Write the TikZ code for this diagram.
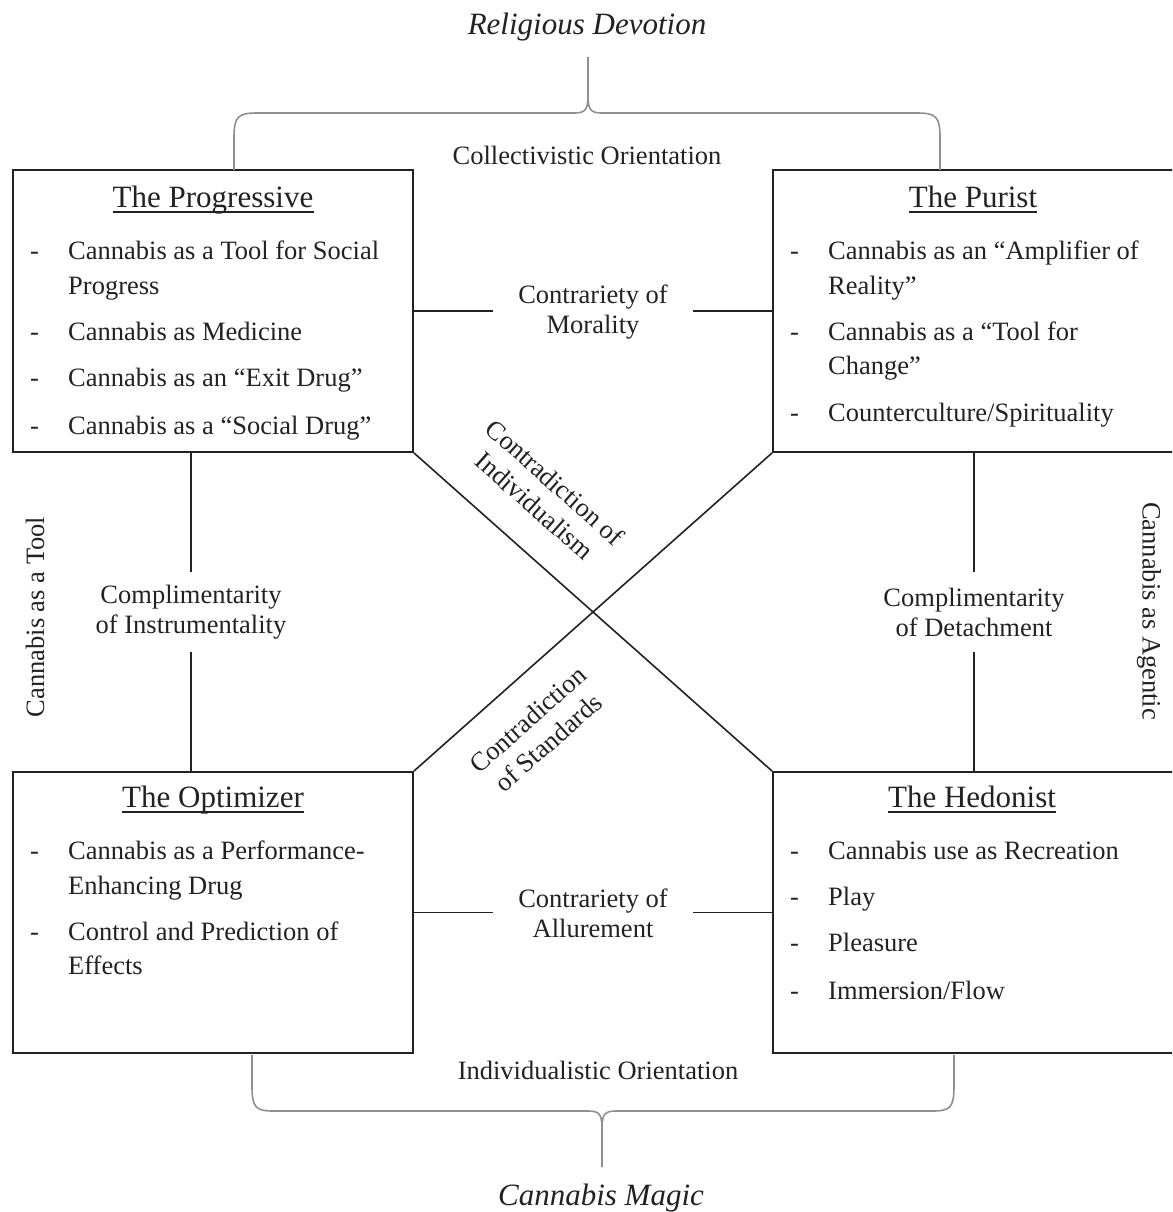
\documentclass[tikz,border=0pt]{standalone}
\usepackage{fontspec}
\setmainfont{Liberation Serif}
\newcommand\bodyf{\fontsize{26.5}{30}\selectfont}
\newcommand\diagf{\fontsize{26.5}{31}\selectfont}
\newcommand\titlef{\fontsize{31}{36}\selectfont}
\definecolor{linec}{HTML}{222222}
\definecolor{bracec}{HTML}{8F8F8F}
\begin{document}
\begin{tikzpicture}[x=1pt,y=-1pt,
  box/.style={draw=linec, line width=1.8pt, inner sep=0pt},
  conn/.style={draw=linec, line width=1.6pt},
  brc/.style={draw=bracec, line width=1.6pt},
  txt/.style={inner sep=0pt, anchor=base west, font=\bodyf, text=linec},
  dsh/.style={inner sep=0pt, anchor=base west, font=\bodyf, text=linec},
  ttl/.style={inner sep=0pt, anchor=base, font=\titlef, text=linec},
  lab/.style={inner sep=0pt, align=center, font=\bodyf, text=linec},
  dlab/.style={inner sep=0pt, align=center, font=\diagf, text=linec},
  big/.style={inner sep=0pt, anchor=base, font=\titlef\itshape, text=linec},
  uline/.style={draw=linec, line width=1.3pt}]
\useasboundingbox (0,0) rectangle (1172,1212);
\clip (0,0) rectangle (1172,1212);
\fill[white] (0,0) rectangle (1172,1212);

% boxes
\node[box, minimum width=400pt, minimum height=282pt] (prog) at (213,311) {};
\node[box, minimum width=402pt, minimum height=282pt] (pur) at (974,311) {};
\node[box, minimum width=400pt, minimum height=281pt] (opt) at (213,912.5) {};
\node[box, minimum width=402pt, minimum height=281pt] (hed) at (974,912.5) {};

% titles
\node[ttl] (tprog) at (213,207) {The Progressive};
\node[ttl] (tpur) at (973,207) {The Purist};
\node[ttl] (topt) at (213,807) {The Optimizer};
\node[ttl] (thed) at (972,807) {The Hedonist};
\foreach \t in {tprog,tpur,topt,thed}
  \draw[uline] ([yshift=-5pt]\t.base west) -- ([yshift=-5pt]\t.base east);

% Progressive items
\node[dsh] (pd1) at (30,259) {-};
\node[txt] (p1) at (68,259) {Cannabis as a Tool for Social};
\node[txt] (p1b) at (68,294) {Progress};
\node[dsh] (pd2) at (30,340) {-};
\node[txt] (p2) at (68,340) {Cannabis as Medicine};
\node[dsh] (pd3) at (30,386) {-};
\node[txt] (p3) at (68,386) {Cannabis as an “Exit Drug”};
\node[dsh] (pd4) at (30,434) {-};
\node[txt] (p4) at (68,434) {Cannabis as a “Social Drug”};

% Purist items
\node[dsh] (ud1) at (790,259) {-};
\node[txt] (u1) at (828,259) {Cannabis as an “Amplifier of};
\node[txt] (u1b) at (828,294) {Reality”};
\node[dsh] (ud2) at (790,340) {-};
\node[txt] (u2) at (828,340) {Cannabis as a “Tool for};
\node[txt] (u2b) at (828,374) {Change”};
\node[dsh] (ud3) at (790,421) {-};
\node[txt] (u3) at (828,421) {Counterculture/Spirituality};

% Optimizer items
\node[dsh] (od1) at (30,859) {-};
\node[txt] (o1) at (68,859) {Cannabis as a Performance-};
\node[txt] (o1b) at (68,894) {Enhancing Drug};
\node[dsh] (od2) at (30,940) {-};
\node[txt] (o2) at (68,940) {Control and Prediction of};
\node[txt] (o2b) at (68,974) {Effects};

% Hedonist items
\node[dsh] (hd1) at (790,859) {-};
\node[txt] (h1) at (828,859) {Cannabis use as Recreation};
\node[dsh] (hd2) at (790,905) {-};
\node[txt] (h2) at (828,905) {Play};
\node[dsh] (hd3) at (790,951) {-};
\node[txt] (h3) at (828,951) {Pleasure};
\node[dsh] (hd4) at (790,999) {-};
\node[txt] (h4) at (828,999) {Immersion/Flow};

% relation labels
\node[lab, minimum width=200pt] (mor) at (593,312) {Contrariety of\\Morality};
\node[lab, minimum width=200pt] (all) at (593,913) {Contrariety of\\Allurement};
\node[lab, minimum height=80pt] (ins) at (191,612) {Complimentarity\\of Instrumentality};
\node[lab, minimum height=80pt] (det) at (974,612) {Complimentarity\\of Detachment};

\draw[conn] (prog.east) -- (mor.west |- prog.east);
\draw[conn] (mor.east |- pur.west) -- (pur.west);
\draw[conn] (opt.east) -- (all.west |- opt.east);
\draw[conn] (all.east |- hed.west) -- (hed.west);
\draw[conn] (ins.north) -- (ins.north |- prog.south);
\draw[conn] (ins.south) -- (ins.south |- opt.north);
\draw[conn] (det.north) -- (det.north |- pur.south);
\draw[conn] (det.south) -- (det.south |- hed.north);
\draw[conn] (prog.south east) -- (hed.north west);
\draw[conn] (pur.south west) -- (opt.north east);

\node[dlab, rotate=-41.6] (cind) at (545,494) {Contradiction of\\Individualism};
\node[dlab, rotate=41.6] (cstd) at (538,731) {Contradiction\\of Standards};

% side labels
\node[lab, rotate=90] (tool) at (35,617) {Cannabis as a Tool};
\node[lab, rotate=-90] (agen) at (1149,611) {Cannabis as Agentic};

% orientation labels
\node[lab] (coll) at (587,155) {Collectivistic Orientation};
\node[lab] (indiv) at (598,1070) {Individualistic Orientation};

% big titles
\node[big] (relig) at (587,35) {Religious Devotion};
\node[big] (magic) at (601,1205) {Cannabis Magic};

% braces
\coordinate (tbl) at (234,170);
\coordinate (tbr) at (940,170);
\coordinate (tbt) at (588,57);
\draw[brc] (tbl) -- (234,138) .. controls (234,116) and (238,113) .. (258,113) -- (574,113) .. controls (585,113) and (588,110) .. (588,96) -- (tbt);
\draw[brc] (tbr) -- (940,138) .. controls (940,116) and (936,113) .. (916,113) -- (602,113) .. controls (591,113) and (588,110) .. (588,96);

\coordinate (bbl) at (252,1055);
\coordinate (bbr) at (954,1055);
\coordinate (bbt) at (602,1167);
\draw[brc] (bbl) -- (252,1086) .. controls (252,1108) and (256,1111) .. (274,1111) -- (588,1111) .. controls (599,1111) and (602,1114) .. (602,1128) -- (bbt);
\draw[brc] (bbr) -- (954,1086) .. controls (954,1108) and (950,1111) .. (932,1111) -- (616,1111) .. controls (605,1111) and (602,1114) .. (602,1128);
\end{tikzpicture}
\end{document}
